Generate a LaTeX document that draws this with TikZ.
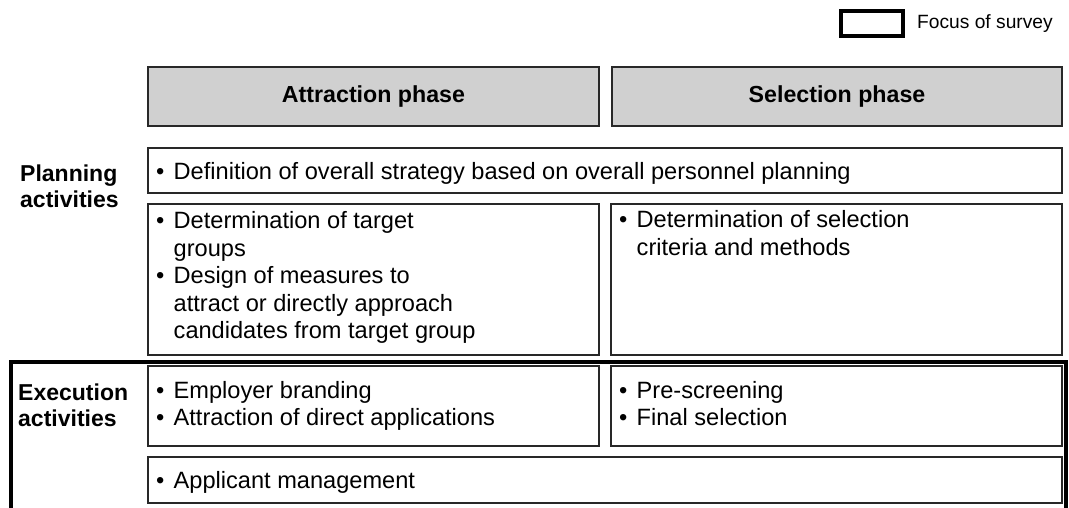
\documentclass[tikz,border=0pt]{standalone}
\usepackage{fontspec}
\setmainfont{Liberation Sans}
\definecolor{hdrfill}{RGB}{208,208,208}
\definecolor{boxline}{RGB}{40,40,40}
\newcommand\bul{\makebox[17.5pt][l]{\textbullet}}
\newcommand\ind{\hspace*{17.5pt}}
\begin{document}
\begin{tikzpicture}[x=1pt,y=-1pt,
  hdr/.style={draw=boxline,line width=1.5pt,fill=hdrfill},
  cbox/.style={draw=boxline,line width=1.3pt},
  thickframe/.style={draw=black,line width=4pt},
  hdrtext/.style={font=\fontsize{23.2}{27}\selectfont\bfseries,anchor=base,inner sep=0pt},
  rowlabel/.style={font=\fontsize{23}{26}\selectfont\bfseries,anchor=base west,inner sep=0pt,align=left},
  btext/.style={font=\fontsize{23.6}{27.6}\selectfont,anchor=base west,inner sep=0pt},
]
\useasboundingbox (0,0) rectangle (1069,508);
% legend
\draw[thickframe] (841,11) rectangle (903,36);
\node[font=\fontsize{19.2}{23}\selectfont,anchor=base west,inner sep=0pt] (legtext) at (917,29) {Focus of survey};
% headers
\draw[hdr] (148,67) rectangle (599,126);
\node[hdrtext] (hdrA) at (373.5,103) {Attraction phase};
\draw[hdr] (612,67) rectangle (1062,126);
\node[hdrtext] (hdrS) at (837,103) {Selection phase};
% row labels
\node[rowlabel] (plan) at (20,182) {\begin{tabular}[t]{@{}l@{}}Planning\\activities\end{tabular}};
\node[rowlabel] (exec) at (18,400) {\begin{tabular}[t]{@{}l@{}}Execution\\activities\end{tabular}};
% planning boxes
\draw[cbox] (148,148) rectangle (1062,193);
\node[btext] (def) at (156,179.5) {\bul Definition of overall strategy based on overall personnel planning};
\draw[cbox] (148,204) rectangle (599,355);
\node[btext] (planA) at (156,228.5) {\begin{tabular}[t]{@{}l@{}}\bul Determination of target\\\ind groups\\\bul Design of measures to\\\ind attract or directly approach\\\ind candidates from target group\end{tabular}};
\draw[cbox] (611,204) rectangle (1062,355);
\node[btext] (planS) at (619,227.5) {\begin{tabular}[t]{@{}l@{}}\bul Determination of selection\\\ind criteria and methods\end{tabular}};
% execution frame
\draw[thickframe] (11,512) -- (11,362) -- (1066,362) -- (1066,512);
\draw[cbox] (148,366) rectangle (599,446);
\node[btext] (exeA) at (156,398) {\begin{tabular}[t]{@{}l@{}}\bul Employer branding\\\bul Attraction of direct applications\end{tabular}};
\draw[cbox] (611,366) rectangle (1062,446);
\node[btext] (exeS) at (619,398) {\begin{tabular}[t]{@{}l@{}}\bul Pre-screening\\\bul Final selection\end{tabular}};
\draw[cbox] (148,457) rectangle (1062,503);
\node[btext] (appl) at (156,488) {\bul Applicant management};
\end{tikzpicture}
\end{document}
